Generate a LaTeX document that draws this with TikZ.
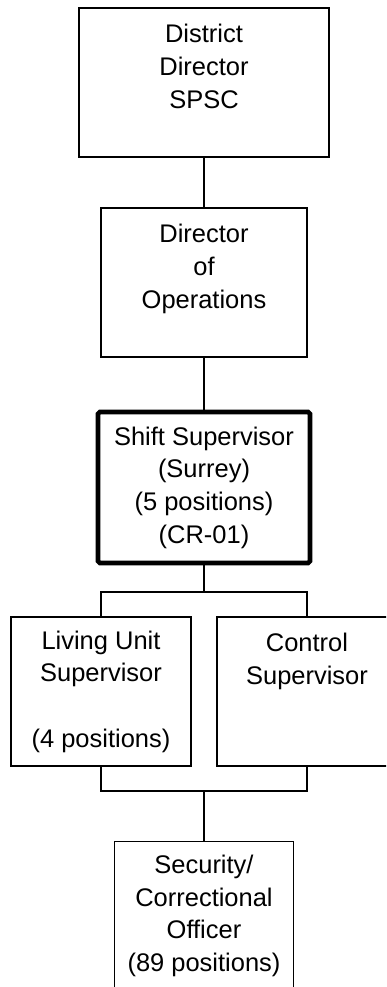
\documentclass[tikz,border=0pt]{standalone}
\usepackage{fontspec}
\setmainfont{Liberation Sans}
\usepackage{tikz}
\usetikzlibrary{positioning}

\begin{document}
\begin{tikzpicture}[
  x=0.02cm, y=-0.02cm,
  posbox/.style={rectangle, draw=black, fill=white, line width=0.75pt,
    minimum height=2.98cm, align=center, inner sep=0pt,
    font=\fontsize{14.5}{18.6}\selectfont},
  keybox/.style={posbox, line width=2.6pt, rounded corners=1pt,
    minimum height=3.02cm},
  link/.style={draw=black, line width=0.75pt}
]
  \useasboundingbox (0,0) rectangle (386,987);
  \clip (0,0) rectangle (386,987);

  \node[posbox, minimum width=5cm]    (dd)  at (204, 82.5)   {District\\Director\\SPSC\\\mbox{}};
  \node[posbox, minimum width=4.12cm] (ops) at (204, 282.5)  {Director\\of\\Operations\\\mbox{}};
  \node[keybox, minimum width=4.24cm] (sup) at (204, 487.5)  {Shift Supervisor\\(Surrey)\\(5 positions)\\(CR-01)};

  \draw[link] (dd)  -- (ops);
  \draw[link] (ops) -- (sup);

  \node[posbox, minimum width=3.6cm]  (luc) at (101, 691.5)  {Living Unit\\Supervisor\\\mbox{}\\(4 positions)};
  \node[posbox, minimum width=3.6cm]  (ctl) at (307, 691.5)  {Control\\Supervisor\\\mbox{}\\\mbox{}};
  \node[posbox, minimum width=3.58cm] (sco) at (204, 916)    {Security/\\Correctional\\Officer\\(89 positions)};

  \coordinate (split) at (204, 592);
  \coordinate (merge) at (204, 791);

  \draw[link] (sup.south) -- (split);
  \draw[link] (split) -| (luc.north);
  \draw[link] (split) -| (ctl.north);
  \draw[link] (luc.south) |- (merge);
  \draw[link] (ctl.south) |- (merge);
  \draw[link] (merge) -- (sco.north);
\end{tikzpicture}
\end{document}
